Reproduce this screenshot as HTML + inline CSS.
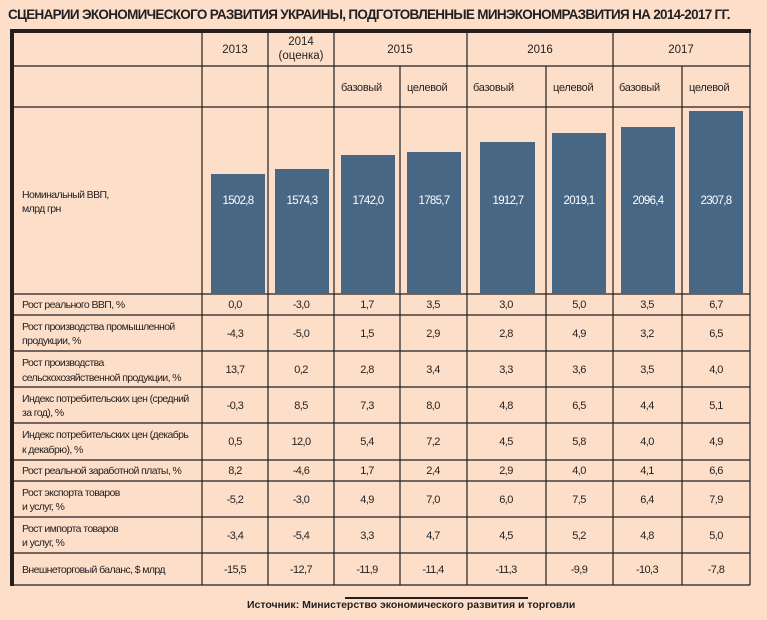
<!DOCTYPE html>
<html><head><meta charset="utf-8"><style>
html,body{margin:0;padding:0;background:#fddfc9;}
svg{display:block}
text{font-family:"Liberation Sans Narrow","Liberation Sans",sans-serif;fill:#231f20;}
</style></head><body>
<svg width="767" height="620" viewBox="0 0 767 620" xmlns="http://www.w3.org/2000/svg">
<rect width="767" height="620" fill="#fddfc9"/>
<text x="8" y="19" font-size="13.5" font-weight="bold" letter-spacing="-0.7">СЦЕНАРИИ ЭКОНОМИЧЕСКОГО РАЗВИТИЯ УКРАИНЫ, ПОДГОТОВЛЕННЫЕ МИНЭКОНОМРАЗВИТИЯ НА 2014-2017 ГГ.</text>
<rect x="10" y="29" width="741" height="4" fill="#231f20"/>
<rect x="10" y="29" width="4" height="557" fill="#231f20"/>
<g stroke="#231f20" stroke-width="1.2">
<line x1="14" y1="66" x2="750" y2="66"/>
<line x1="14" y1="107" x2="750" y2="107"/>
<line x1="14" y1="294" x2="750" y2="294"/>
<line x1="14" y1="315" x2="750" y2="315"/>
<line x1="14" y1="351" x2="750" y2="351"/>
<line x1="14" y1="387" x2="750" y2="387"/>
<line x1="14" y1="423" x2="750" y2="423"/>
<line x1="14" y1="460" x2="750" y2="460"/>
<line x1="14" y1="481" x2="750" y2="481"/>
<line x1="14" y1="517" x2="750" y2="517"/>
<line x1="14" y1="553" x2="750" y2="553"/>
<line x1="14" y1="585" x2="750" y2="585"/>
<line x1="202" y1="33" x2="202" y2="585"/>
<line x1="268" y1="33" x2="268" y2="585"/>
<line x1="334" y1="33" x2="334" y2="585"/>
<line x1="400" y1="66" x2="400" y2="585"/>
<line x1="467" y1="33" x2="467" y2="585"/>
<line x1="546" y1="66" x2="546" y2="585"/>
<line x1="613" y1="33" x2="613" y2="585"/>
<line x1="682" y1="66" x2="682" y2="585"/>
<line x1="750" y1="33" x2="750" y2="585"/>
</g>
<g font-size="11.5" text-anchor="middle">
<text x="235" y="53">2013</text>
<text x="301" y="45">2014</text>
<text x="301" y="59">(оценка)</text>
<text x="400" y="53">2015</text>
<text x="540" y="53">2016</text>
<text x="681" y="53">2017</text>
</g>
<g font-size="11" letter-spacing="-0.3">
<text x="341" y="91">базовый</text>
<text x="407" y="91">целевой</text>
<text x="473" y="91">базовый</text>
<text x="553" y="91">целевой</text>
<text x="619" y="91">базовый</text>
<text x="689" y="91">целевой</text>
</g>
<g fill="#486785">
<rect x="211" y="174" width="54" height="120"/>
<rect x="275" y="169" width="54" height="125"/>
<rect x="341" y="155" width="54" height="139"/>
<rect x="407" y="152" width="54" height="142"/>
<rect x="480" y="142" width="55" height="152"/>
<rect x="552" y="133" width="54" height="161"/>
<rect x="621" y="127" width="54" height="167"/>
<rect x="689" y="111" width="54" height="183"/>
</g>
<g font-size="11.5" text-anchor="middle" letter-spacing="-0.7">
<text x="238" y="204" style="fill:#fff">1502,8</text>
<text x="302" y="204" style="fill:#fff">1574,3</text>
<text x="368" y="204" style="fill:#fff">1742,0</text>
<text x="434" y="204" style="fill:#fff">1785,7</text>
<text x="508" y="204" style="fill:#fff">1912,7</text>
<text x="579" y="204" style="fill:#fff">2019,1</text>
<text x="648" y="204" style="fill:#fff">2096,4</text>
<text x="716" y="204" style="fill:#fff">2307,8</text>
</g>
<g font-size="10.5" letter-spacing="-0.6">
<text x="22" y="198">Номинальный ВВП,</text>
<text x="22" y="212">млрд грн</text>
<text x="22" y="308">Рост реального ВВП, %</text>
<text x="22" y="330">Рост производства промышленной</text>
<text x="22" y="344">продукции, %</text>
<text x="22" y="366">Рост производства</text>
<text x="22" y="381">сельскохозяйственной продукции, %</text>
<text x="22" y="402">Индекс потребительских цен (средний</text>
<text x="22" y="416">за год), %</text>
<text x="22" y="438">Индекс потребительских цен (декабрь</text>
<text x="22" y="453">к декабрю), %</text>
<text x="22" y="474">Рост реальной заработной платы, %</text>
<text x="22" y="496">Рост экспорта товаров</text>
<text x="22" y="510">и услуг, %</text>
<text x="22" y="532">Рост импорта товаров</text>
<text x="22" y="546">и услуг, %</text>
<text x="22" y="573">Внешнеторговый баланс, $ млрд</text>
</g>
<g font-size="11" text-anchor="middle" letter-spacing="-0.6">
<text y="308"><tspan x="235">0,0</tspan><tspan x="301">-3,0</tspan><tspan x="367">1,7</tspan><tspan x="433">3,5</tspan><tspan x="506">3,0</tspan><tspan x="579">5,0</tspan><tspan x="647">3,5</tspan><tspan x="716">6,7</tspan></text>
<text y="337"><tspan x="235">-4,3</tspan><tspan x="301">-5,0</tspan><tspan x="367">1,5</tspan><tspan x="433">2,9</tspan><tspan x="506">2,8</tspan><tspan x="579">4,9</tspan><tspan x="647">3,2</tspan><tspan x="716">6,5</tspan></text>
<text y="373"><tspan x="235">13,7</tspan><tspan x="301">0,2</tspan><tspan x="367">2,8</tspan><tspan x="433">3,4</tspan><tspan x="506">3,3</tspan><tspan x="579">3,6</tspan><tspan x="647">3,5</tspan><tspan x="716">4,0</tspan></text>
<text y="409"><tspan x="235">-0,3</tspan><tspan x="301">8,5</tspan><tspan x="367">7,3</tspan><tspan x="433">8,0</tspan><tspan x="506">4,8</tspan><tspan x="579">6,5</tspan><tspan x="647">4,4</tspan><tspan x="716">5,1</tspan></text>
<text y="445"><tspan x="235">0,5</tspan><tspan x="301">12,0</tspan><tspan x="367">5,4</tspan><tspan x="433">7,2</tspan><tspan x="506">4,5</tspan><tspan x="579">5,8</tspan><tspan x="647">4,0</tspan><tspan x="716">4,9</tspan></text>
<text y="474"><tspan x="235">8,2</tspan><tspan x="301">-4,6</tspan><tspan x="367">1,7</tspan><tspan x="433">2,4</tspan><tspan x="506">2,9</tspan><tspan x="579">4,0</tspan><tspan x="647">4,1</tspan><tspan x="716">6,6</tspan></text>
<text y="503"><tspan x="235">-5,2</tspan><tspan x="301">-3,0</tspan><tspan x="367">4,9</tspan><tspan x="433">7,0</tspan><tspan x="506">6,0</tspan><tspan x="579">7,5</tspan><tspan x="647">6,4</tspan><tspan x="716">7,9</tspan></text>
<text y="539"><tspan x="235">-3,4</tspan><tspan x="301">-5,4</tspan><tspan x="367">3,3</tspan><tspan x="433">4,7</tspan><tspan x="506">4,5</tspan><tspan x="579">5,2</tspan><tspan x="647">4,8</tspan><tspan x="716">5,0</tspan></text>
<text y="573"><tspan x="235">-15,5</tspan><tspan x="301">-12,7</tspan><tspan x="367">-11,9</tspan><tspan x="433">-11,4</tspan><tspan x="506">-11,3</tspan><tspan x="579">-9,9</tspan><tspan x="647">-10,3</tspan><tspan x="716">-7,8</tspan></text>
</g>
<rect x="345" y="597" width="183" height="2" fill="#231f20"/>
<text x="247" y="608" font-size="10.5" font-weight="bold" style="font-family:'Liberation Sans',sans-serif">Источник: Министерство экономического развития и торговли</text>
</svg>
</body></html>
